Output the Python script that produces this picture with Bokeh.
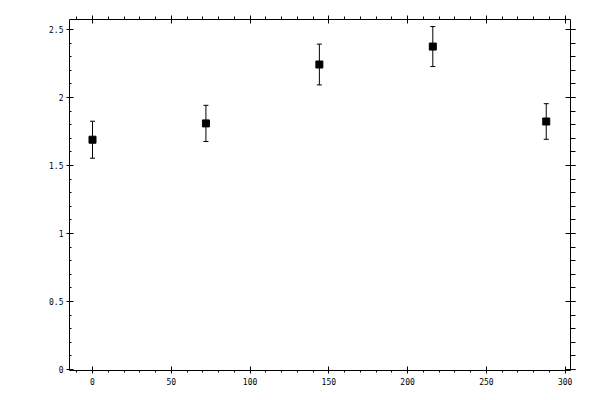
from bokeh.plotting import figure
from bokeh.models import (ColumnDataSource, Range1d, LinearAxis, SingleIntervalTicker,
                          Whisker, TeeHead, CustomJSTickFormatter)
from bokeh.embed import file_html
from bokeh.resources import INLINE

x_vals = [0, 72, 144, 216, 288]
y_vals = [1.69, 1.81, 2.243, 2.375, 1.824]
y_err = [0.136, 0.133, 0.15, 0.147, 0.131]

upper = [y + e for y, e in zip(y_vals, y_err)]
lower = [y - e for y, e in zip(y_vals, y_err)]
src = ColumnDataSource(dict(x=x_vals, y=y_vals, upper=upper, lower=lower))

FONT = "DejaVu Sans Mono"

p = figure(width=592, height=392, output_backend="svg", toolbar_location=None,
           x_range=Range1d(-14.6, 303.4), y_range=Range1d(-0.007, 2.574),
           x_axis_type=None, y_axis_type=None,
           min_border_left=69, min_border_right=22, min_border_top=19, min_border_bottom=22)
p.grid.visible = False
p.outline_line_color = None
p.background_fill_color = "white"
p.border_fill_color = "white"

xt = SingleIntervalTicker(interval=50, num_minor_ticks=5)
yt = SingleIntervalTicker(interval=0.5, num_minor_ticks=5)
blank = CustomJSTickFormatter(code="return ''")


def style(ax, mi, mo, ni, no):
    ax.axis_line_color = "black"
    ax.axis_line_width = 1
    ax.major_tick_line_color = "black"
    ax.minor_tick_line_color = "black"
    ax.major_tick_in = mi
    ax.major_tick_out = mo
    ax.minor_tick_in = ni
    ax.minor_tick_out = no
    ax.major_label_text_font = FONT
    ax.major_label_text_font_size = "8px"
    ax.major_label_text_color = "black"


bottom = LinearAxis(ticker=xt)
style(bottom, 4, 3, 0, 2)
bottom.major_label_standoff = 4
p.add_layout(bottom, "below")

left = LinearAxis(ticker=yt)
style(left, 4, 3, 2, 0)
left.major_label_standoff = 3
p.add_layout(left, "left")

top = LinearAxis(ticker=xt, formatter=blank)
style(top, 4, 4, 0, 3)
p.add_layout(top, "above")

right = LinearAxis(ticker=yt, formatter=blank)
style(right, 5, 5, 0, 5)
p.add_layout(right, "right")

p.add_layout(Whisker(base="x", upper="upper", lower="lower", source=src,
                     line_color="black", line_width=1,
                     upper_head=TeeHead(size=5, line_color="black", line_width=1),
                     lower_head=TeeHead(size=5, line_color="black", line_width=1)))
p.scatter("x", "y", source=src, marker="square", size=7, fill_color="black", line_color="black")

open("out.html", "w").write(file_html(p, INLINE))
